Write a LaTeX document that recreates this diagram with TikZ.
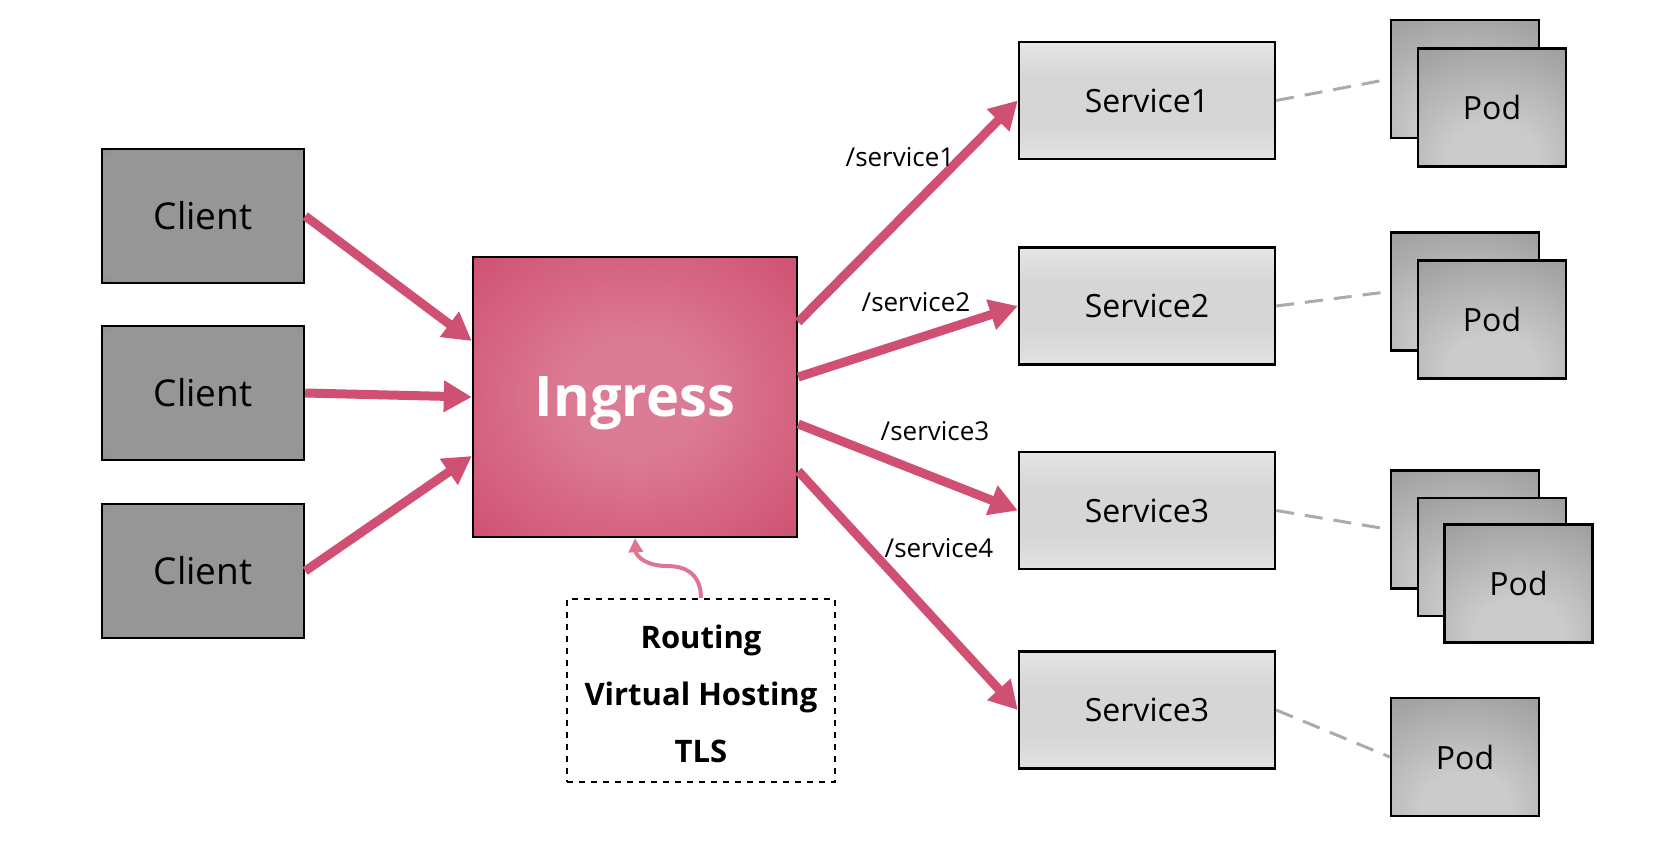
\documentclass[tikz,border=0pt]{standalone}
\usepackage{fontspec}
\setmainfont{Open Sans}
\usepackage{tikz}
\usetikzlibrary{arrows.meta,calc}
\definecolor{routepink}{HTML}{CF5072}
\definecolor{routelight}{HTML}{DC7B94}
\definecolor{curlpink}{HTML}{DF7593}
\definecolor{linkgray}{HTML}{ABABAB}
\definecolor{clientlight}{HTML}{969696}
\definecolor{clientdark}{HTML}{686868}
\definecolor{svctop}{HTML}{FAFAFA}
\definecolor{svcmid}{HTML}{D6D6D6}
\definecolor{svcbot}{HTML}{E2E2E2}
\definecolor{podlight}{HTML}{CBCBCB}
\definecolor{poddark}{HTML}{6E6E6E}
\pgfdeclareradialshading{ingressglow}{\pgfpointorigin}{color(0bp)=(routelight); color(10bp)=(routelight); color(36bp)=(routepink); color(100bp)=(routepink)}
\pgfdeclareradialshading{clientglow}{\pgfpointorigin}{color(0bp)=(clientlight); color(32bp)=(clientlight); color(62bp)=(clientdark); color(100bp)=(clientdark)}
\pgfdeclareradialshading{podglow}{\pgfpoint{0bp}{-25bp}}{color(0bp)=(podlight); color(15bp)=(podlight); color(80bp)=(poddark); color(110bp)=(poddark)}
\pgfdeclareverticalshading{svcfade}{100bp}{color(0bp)=(svcbot); color(25bp)=(svcbot); color(40bp)=(svcmid); color(60bp)=(svcmid); color(95bp)=(svctop); color(100bp)=(svctop)}

\begin{document}
\begin{tikzpicture}[x=0.5pt,y=-0.5pt,
  client/.style={draw=black,line width=1.2pt,shading=clientglow,minimum width=101pt,minimum height=67pt,font=\fontsize{18.5}{22}\selectfont},
  service/.style={draw=black,line width=1.2pt,shading=svcfade,minimum width=128pt,minimum height=58.5pt,font=\fontsize{16}{19}\selectfont},
  pod/.style={draw=black,line width=1.2pt,shading=podglow,minimum width=74pt,minimum height=59pt,font=\fontsize{16}{19}\selectfont},
  routearrow/.style={line width=4.5pt,routepink,-{Triangle[length=14pt,width=15pt]}},
  podlink/.style={line width=1.5pt,linkgray,dash pattern=on 9pt off 5.5pt},
  pathlabel/.style={font=\fontsize{13}{15}\selectfont}
]
  \useasboundingbox (0,0) rectangle (1670,858);

  \node[client] (client1) at (203,216) {Client};
  \node[client] (client2) at (203,393) {Client};
  \node[client] (client3) at (203,571) {Client};

  \node[draw=black,line width=1.2pt,shading=ingressglow,minimum width=162pt,minimum height=140pt,text=white,font=\fontsize{28}{32}\selectfont\bfseries] (ingress) at (635,397) {\rule{0pt}{26pt}Ingress};

  \node[draw=black,line width=1pt,dashed,minimum width=134pt,minimum height=91.5pt,align=center,font=\fontsize{15.5}{28.5}\selectfont\bfseries] (routing) at (701,690.5) {\rule{0pt}{15.5pt}Routing\\Virtual Hosting\\TLS};

  \node[service] (service1) at (1147,100.5) {Service1};
  \node[service] (service2) at (1147,306) {Service2};
  \node[service] (service3) at (1147,510.5) {Service3};
  \node[service] (service4) at (1147,710) {Service3};

  \node[pod] (pod1a) at (1465,79) {};
  \node[pod] (pod1b) at (1492,107.5) {Pod};
  \node[pod] (pod2a) at (1465,291.5) {};
  \node[pod] (pod2b) at (1492,319.5) {Pod};
  \node[pod] (pod3a) at (1465,529.5) {};
  \node[pod] (pod3b) at (1492,557) {};
  \node[pod] (pod3c) at (1518.5,583.5) {Pod};
  \node[pod] (pod4a) at (1465,757) {Pod};

  \draw[routearrow] (client1.east) -- ($(ingress.west)+(0,-56)$);
  \draw[routearrow] (client2.east) -- (ingress.west);
  \draw[routearrow] (client3.east) -- ($(ingress.west)+(0,59)$);

  \draw[routearrow] ($(ingress.east)+(0,-75)$) -- (service1.west);
  \draw[routearrow] ($(ingress.east)+(0,-20)$) -- (service2.west);
  \draw[routearrow] ($(ingress.east)+(0,27)$) -- (service3.west);
  \draw[routearrow] ($(ingress.east)+(0,74)$) -- (service4.west);

  \node[pathlabel] (label1) at (900,157) {/service1};
  \node[pathlabel] (label2) at (916,302) {/service2};
  \node[pathlabel] (label3) at (935,431) {/service3};
  \node[pathlabel] (label4) at (939,548) {/service4};

  \draw[podlink] (service1.east) -- (pod1a.west);
  \draw[podlink] (service2.east) -- (pod2a.west);
  \draw[podlink] (service3.east) -- (pod3a.west);
  \draw[podlink] (service4.east) -- (pod4a.west);

  \coordinate (bend) at (667,566);
  \draw[line width=2pt,curlpink,-{Triangle[length=7pt,width=7pt]}] (routing.north) .. controls (701,578) and (690,566) .. (bend) .. controls (646,566) and (636,556) .. (ingress.south);
\end{tikzpicture}
\end{document}
